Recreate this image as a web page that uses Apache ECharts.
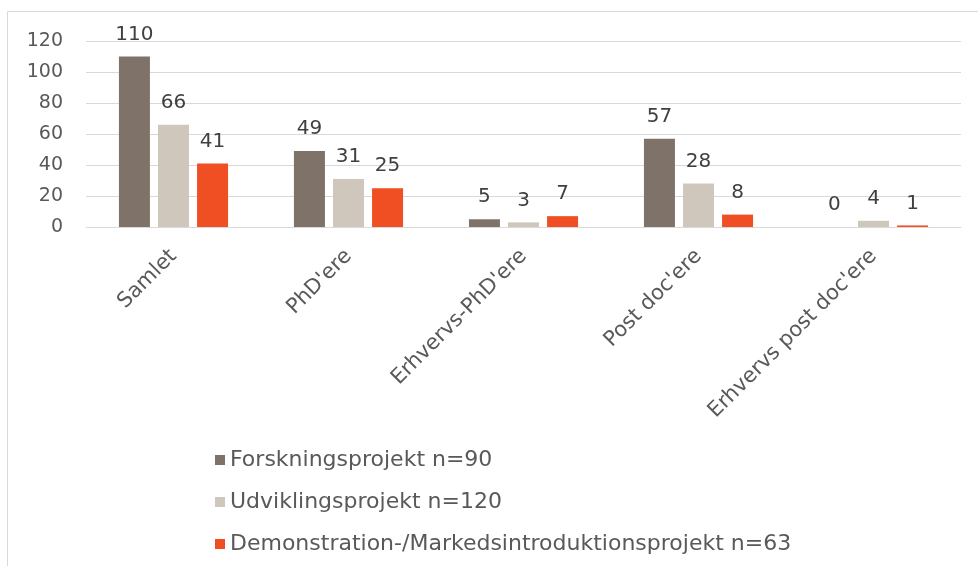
<!DOCTYPE html>
<html><head><meta charset="utf-8">
<script src="https://cdn.jsdelivr.net/npm/echarts@6/dist/echarts.min.js"></script>
<style>html,body{margin:0;padding:0;background:#fff}#c{width:978px;height:566px}</style>
</head><body><div id="c"></div>
<script>
const categories = ["Samlet", "PhD'ere", "Erhvervs-PhD'ere", "Post doc'ere", "Erhvervs post doc'ere"];
const seriesNames = ["Forskningsprojekt n=90", "Udviklingsprojekt n=120", "Demonstration-/Markedsintroduktionsprojekt n=63"];
const forskning = [110, 49, 5, 57, 0];
const udvikling = [66, 31, 3, 28, 4];
const demonstration = [41, 25, 7, 8, 1];
const colors = ["#7f7369", "#d0c7bc", "#f04e23"];
const font = "Verdana, 'DejaVu Sans', sans-serif";

const chart = echarts.init(document.getElementById('c'));
const mk = (name, data, color) => ({
  name, type: 'bar', data, barWidth: 31, barGap: '26%',
  itemStyle: { color },
  label: { show: true, position: 'top', distance: 12, color: '#404040', fontSize: 20, fontFamily: font }
});
chart.setOption({
  animation: false,
  graphic: [{ type: 'rect', shape: { x: 7.5, y: 11.5, width: 1000, height: 600 }, style: { fill: 'none', stroke: '#d9d9d9', lineWidth: 1 }, z: -1 }],
  grid: { left: 86, right: 17, top: 41, bottom: 339 },
  legend: {
    orient: 'vertical', left: 210, top: 443, itemWidth: 10, itemHeight: 10, itemGap: 18,
    icon: 'rect', textStyle: { color: '#595959', fontSize: 22, fontFamily: font, lineHeight: 24 },
    data: seriesNames
  },
  xAxis: {
    type: 'category', data: categories,
    axisLine: { lineStyle: { color: '#d9d9d9' } }, axisTick: { show: false },
    axisLabel: { rotate: 45, color: '#595959', fontSize: 21, fontFamily: font, margin: 26, interval: 0 }
  },
  yAxis: {
    type: 'value', min: 0, max: 120, interval: 20,
    axisLine: { show: false }, axisTick: { show: false },
    splitLine: { lineStyle: { color: '#d9d9d9' } },
    axisLabel: { color: '#595959', fontSize: 19, fontFamily: font, margin: 23 }
  },
  series: [mk(seriesNames[0], forskning, colors[0]), mk(seriesNames[1], udvikling, colors[1]), mk(seriesNames[2], demonstration, colors[2])]
});
</script></body></html>
